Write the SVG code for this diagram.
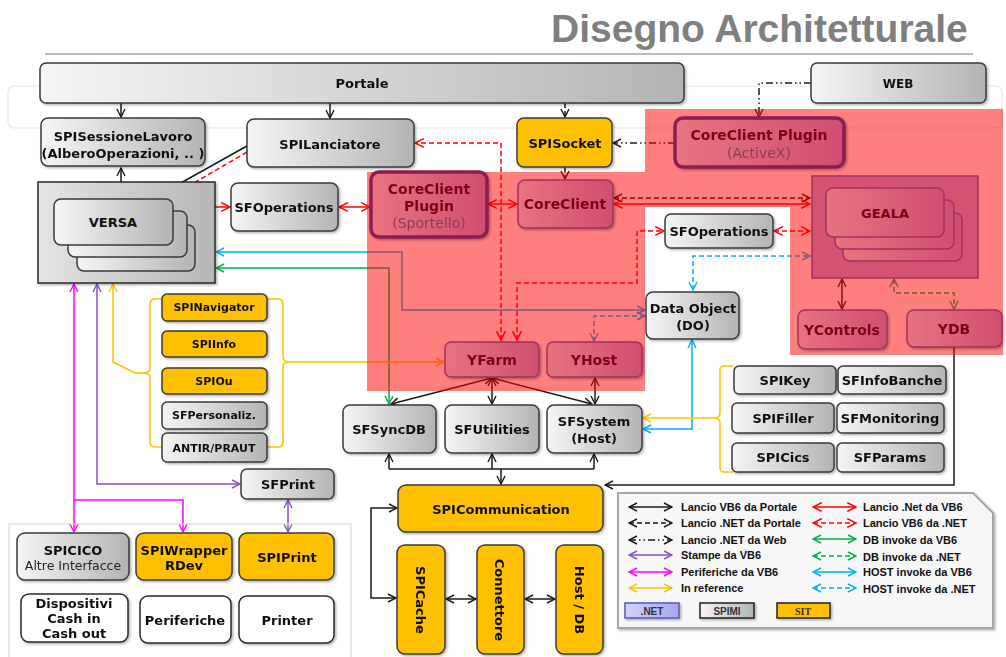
<svg xmlns="http://www.w3.org/2000/svg" width="1006" height="657" viewBox="0 0 1006 657">
<defs>
  <linearGradient id="gGray" x1="0" y1="0" x2="1" y2="0">
    <stop offset="0" stop-color="#f5f5f5"/><stop offset="1" stop-color="#b4b4b4"/>
  </linearGradient>
  <linearGradient id="gBox" x1="0" y1="0" x2="1" y2="0">
    <stop offset="0" stop-color="#e4e4e4"/><stop offset="1" stop-color="#b6b6b6"/>
  </linearGradient>
  <linearGradient id="gPink" x1="0" y1="0" x2="1" y2="0">
    <stop offset="0" stop-color="#e9737f"/><stop offset="1" stop-color="#d04e70"/>
  </linearGradient>
  <linearGradient id="gNet" x1="0" y1="0" x2="1" y2="0">
    <stop offset="0" stop-color="#d2d2fa"/><stop offset="1" stop-color="#a8a8ec"/>
  </linearGradient>
  <filter id="sh" x="-10%" y="-10%" width="130%" height="150%">
    <feDropShadow dx="1.5" dy="1.5" stdDeviation="1.2" flood-color="#000" flood-opacity="0.3"/>
  </filter>
  <marker id="mk" viewBox="0 0 10 10" refX="9" refY="5" markerWidth="10" markerHeight="10" markerUnits="userSpaceOnUse" orient="auto-start-reverse"><path d="M1,1 L9,5 L1,9" fill="none" stroke="#1a1a1a" stroke-width="1.4"/></marker>
  <marker id="mr" viewBox="0 0 10 10" refX="9" refY="5" markerWidth="11" markerHeight="11" markerUnits="userSpaceOnUse" orient="auto-start-reverse"><path d="M1,1 L9,5 L1,9" fill="none" stroke="#ff0000" stroke-width="1.4"/></marker>
  <marker id="mg" viewBox="0 0 10 10" refX="9" refY="5" markerWidth="10" markerHeight="10" markerUnits="userSpaceOnUse" orient="auto-start-reverse"><path d="M1,1 L9,5 L1,9" fill="none" stroke="#00b050" stroke-width="1.4"/></marker>
  <marker id="mc" viewBox="0 0 10 10" refX="9" refY="5" markerWidth="10" markerHeight="10" markerUnits="userSpaceOnUse" orient="auto-start-reverse"><path d="M1,1 L9,5 L1,9" fill="none" stroke="#00b0f0" stroke-width="1.4"/></marker>
  <marker id="mp" viewBox="0 0 10 10" refX="9" refY="5" markerWidth="10" markerHeight="10" markerUnits="userSpaceOnUse" orient="auto-start-reverse"><path d="M1,1 L9,5 L1,9" fill="none" stroke="#8a50c0" stroke-width="1.4"/></marker>
  <marker id="mm" viewBox="0 0 10 10" refX="9" refY="5" markerWidth="10" markerHeight="10" markerUnits="userSpaceOnUse" orient="auto-start-reverse"><path d="M1,1 L9,5 L1,9" fill="none" stroke="#ff00ff" stroke-width="1.4"/></marker>
  <marker id="my" viewBox="0 0 10 10" refX="9" refY="5" markerWidth="10" markerHeight="10" markerUnits="userSpaceOnUse" orient="auto-start-reverse"><path d="M1,1 L9,5 L1,9" fill="none" stroke="#ffc000" stroke-width="1.4"/></marker>
  <style>
    .c{fill:none;stroke-width:1.5}
    .k{stroke:#1a1a1a}.r{stroke:#ff0000}.g{stroke:#00b050}.b{stroke:#00b0f0}
    .p{stroke:#8a50c0}.m{stroke:#ff00ff}.y{stroke:#ffc000}
    .d{stroke-dasharray:5 3}
    .dd{stroke-dasharray:7 3 1.5 3 1.5 3}
    .gray{fill:url(#gGray);stroke:#3a3a3a;stroke-width:1.5}
    .yel{fill:#ffc000;stroke:#3a3a3a;stroke-width:1.5}
    .wht{fill:#fff;stroke:#2a2a2a;stroke-width:1.5}
    .pink{fill:url(#gPink);stroke:#a3305c;stroke-width:1.5}
    .pinkT{fill:url(#gPink);stroke:#8c1d52;stroke-width:3.5}
    .sh{filter:url(#sh)}
    text{font-family:"DejaVu Sans",Verdana,sans-serif;text-anchor:middle}
    .t{font-size:13px;font-weight:bold;fill:#111}
    .t11{font-size:11px;font-weight:bold;fill:#111}
    .t12{font-size:12px;font-weight:bold;fill:#111}
    .tn{font-size:12.5px;fill:#222}
    .tp{font-size:14px;font-weight:bold;fill:#7a0012}
    .tp13{font-size:13px;font-weight:bold;fill:#7a0012}
    .tpn{font-size:14px;fill:#8a3c52}
    .lg{font-family:"Liberation Sans",Arial,sans-serif;font-size:11px;font-weight:bold;fill:#111;text-anchor:start}
  </style>
</defs>

<rect width="1006" height="657" fill="#fff"/>

<!-- heading -->
<text x="551" y="42" style="font-family:'Liberation Sans',Arial,sans-serif;font-size:39px;font-weight:bold;fill:#7f7f7f;text-anchor:start">Disegno Architetturale</text>
<line x1="45" y1="54" x2="973" y2="54" stroke="#a6a6a6" stroke-width="1.5"/>
<rect x="8" y="86" width="994" height="42" rx="6" fill="none" stroke="#e6e6e6" stroke-width="1.2"/>

<!-- connectors -->
<g id="connectors">
  <path class="c k" d="M121,103 V117" marker-end="url(#mk)"/>
  <path class="c k" d="M330,103 V118" marker-end="url(#mk)"/>
  <path class="c k d" d="M565,103 V117" marker-end="url(#mk)"/>
  <path class="c k d" d="M565,167 V179" marker-end="url(#mk)"/>
  <path class="c k dd" d="M811,83 H759 V117" marker-end="url(#mk)"/>
  <path class="c k dd" d="M675,143 H613" marker-end="url(#mk)"/>
  <path class="c k" d="M121,168 V197" marker-start="url(#mk)" marker-end="url(#mk)"/>
  <path class="c k" d="M247,146 L170,189" marker-end="url(#mk)"/>
  <path class="c r d" d="M247,152 L170,197" marker-end="url(#mr)"/>
  <path class="c r d" d="M501,340 V143 H415" marker-start="url(#mr)" marker-end="url(#mr)"/>
  <path class="c r" d="M187,207 H230" marker-start="url(#mr)" marker-end="url(#mr)"/>
  <path class="c r" d="M339,207 H370" marker-start="url(#mr)" marker-end="url(#mr)"/>
  <path class="c r" d="M488,204 H517" marker-start="url(#mr)" marker-end="url(#mr)"/>
  <path class="c k d" d="M614,198 H810" marker-start="url(#mk)" marker-end="url(#mk)"/>
  <path class="c r" d="M614,204 H810" marker-start="url(#mr)" marker-end="url(#mr)"/>
  <path class="c r d" d="M774,231 H810" marker-start="url(#mr)" marker-end="url(#mr)"/>
  <path class="c r d" d="M517,340 V283 H637 V231 H664" marker-start="url(#mr)" marker-end="url(#mr)"/>
  <path class="c b d" d="M693,290 V256 H810" marker-start="url(#mc)" marker-end="url(#mc)"/>
  <path class="c b d" d="M645,316 H594 V341" marker-start="url(#mc)" marker-end="url(#mc)"/>
  <path class="c b" d="M216,252 H402 V310 H645" marker-start="url(#mc)" marker-end="url(#mc)"/>
  <path class="c g" d="M216,268 H389 V404" marker-start="url(#mg)" marker-end="url(#mg)"/>
  <path class="c k" d="M842,279 V309" marker-start="url(#mk)" marker-end="url(#mk)"/>
  <path class="c g d" d="M894,279 V293 H954 V309" marker-start="url(#mg)" marker-end="url(#mg)"/>
  <path class="c k" d="M492,378 L391,404" marker-start="url(#mk)" marker-end="url(#mk)"/>
  <path class="c k" d="M492,378 V404" marker-start="url(#mk)" marker-end="url(#mk)"/>
  <path class="c k" d="M492,378 L592,404" marker-start="url(#mk)" marker-end="url(#mk)"/>
  <path class="c k" d="M595,378 V404" marker-start="url(#mk)" marker-end="url(#mk)"/>
  <path class="c k" d="M389,469 H594"/>
  <path class="c k" d="M389,469 V454" marker-end="url(#mk)"/>
  <path class="c k" d="M492,469 V454" marker-end="url(#mk)"/>
  <path class="c k" d="M594,469 V454" marker-end="url(#mk)"/>
  <path class="c k" d="M501,469 V484" marker-end="url(#mk)"/>
  <path class="c k" d="M954,347 V485 H605" marker-end="url(#mk)"/>
  <path class="c k" d="M397,508 H371 V598 H396" marker-start="url(#mk)" marker-end="url(#mk)"/>
  <path class="c k" d="M446,599 H476" marker-start="url(#mk)" marker-end="url(#mk)"/>
  <path class="c k" d="M525,599 H555" marker-start="url(#mk)" marker-end="url(#mk)"/>
  <path class="c b" d="M692,340 V429 H643" marker-start="url(#mc)" marker-end="url(#mc)"/>
  <path class="c y" d="M733,366 H724 Q720,366 720,370 V413 Q720,418 714,418 Q720,418 720,423 V468 Q720,472 724,472 H733"/>
  <path class="c y" d="M714,418 H643" marker-end="url(#my)"/>
  <path class="c y" d="M162,299 H155 Q150,299 150,304 V368 Q150,373 143,373 Q150,373 150,378 V442 Q150,447 155,447 H162"/>
  <path class="c y" d="M267,299 H278 Q283,299 283,304 V357 Q283,362 290,362 Q283,362 283,367 V442 Q283,447 278,447 H267"/>
  <path class="c y" d="M143,373 H135 L113,362 V284" marker-end="url(#my)"/>
  <path class="c y" d="M290,362 H444" marker-end="url(#my)"/>
  <path class="c m" d="M74,284 V532" marker-start="url(#mm)" marker-end="url(#mm)"/>
  <path class="c m" d="M74,500 H183 V532" marker-end="url(#mm)"/>
  <path class="c p" d="M97,284 V484 H240" marker-start="url(#mp)" marker-end="url(#mp)"/>
  <path class="c p" d="M288,500 V532" marker-start="url(#mp)" marker-end="url(#mp)"/>
</g>

<!-- .NET zone -->
<polygon id="net-zone" points="367,172 645,172 645,109 1003,109 1003,355 790,355 790,207 645,207 645,391 367,391" fill="#ff0000" opacity="0.5"/>

<!-- nodes -->
<g id="portale" class="sh"><rect class="gray" x="40" y="63" width="644" height="40" rx="6"/><text class="t" x="362" y="88">Portale</text></g>
<g id="web" class="sh"><rect class="gray" x="811" y="63" width="175" height="40" rx="6"/><text class="t12" x="898" y="87.5">WEB</text></g>
<g id="spisessione" class="sh"><rect class="gray" x="41" y="118" width="164" height="48" rx="7"/><text class="t" x="123" y="141">SPISessioneLavoro</text><text class="t" x="123" y="158">(AlberoOperazioni, .. )</text></g>
<g id="spilanciatore" class="sh"><rect class="gray" x="247" y="119" width="167" height="48" rx="7"/><text class="t" x="330" y="148.5">SPILanciatore</text></g>
<g id="spisocket" class="sh"><rect class="yel" x="517" y="118" width="95" height="49" rx="7"/><text class="t" x="565" y="148">SPISocket</text></g>
<g id="plugin-activex" class="sh"><rect class="pinkT" x="675" y="118" width="169" height="49" rx="8"/><text class="tp" x="759" y="140">CoreClient Plugin</text><text class="tpn" x="759" y="158">(ActiveX)</text></g>

<g id="versa">
  <rect x="38" y="182" width="177" height="101" fill="url(#gBox)" stroke="#2a2a2a" stroke-width="1.5" class="sh"/>
  <rect class="gray" x="77" y="225" width="118" height="46" rx="7"/>
  <rect class="gray" x="68" y="211" width="119" height="46" rx="7"/>
  <rect class="gray" x="54" y="199" width="119" height="46" rx="7"/>
  <text class="t" x="113" y="227">VERSA</text>
</g>
<g id="sfoperations-vb" class="sh"><rect class="gray" x="231" y="183" width="107" height="48" rx="7"/><text class="t" x="284" y="212">SFOperations</text></g>
<g id="plugin-sportello" class="sh"><rect class="pinkT" x="371" y="172" width="116" height="65" rx="8"/><text class="tp" x="429" y="194">CoreClient</text><text class="tp" x="429" y="211">Plugin</text><text class="tpn" x="429" y="228">(Sportello)</text></g>
<g id="coreclient" class="sh"><rect class="pink" x="518" y="180" width="95" height="48" rx="7"/><text class="tp" x="565" y="209">CoreClient</text></g>

<g id="geala">
  <rect x="812" y="176" width="166" height="102" fill="#d45373" stroke="#a3305c" stroke-width="1.5"/>
  <rect class="pink" x="843" y="213" width="119" height="48" rx="7"/>
  <rect class="pink" x="835" y="200" width="119" height="49" rx="7"/>
  <rect class="pink" x="826" y="188" width="118" height="49" rx="7"/>
  <text class="tp13" x="885" y="218">GEALA</text>
</g>
<g id="sfoperations-net" class="sh"><rect class="gray" x="665" y="214" width="108" height="34" rx="6"/><text class="t" x="719" y="236">SFOperations</text></g>
<g id="dataobject" class="sh"><rect class="gray" x="646" y="292" width="93" height="47" rx="7"/><text class="t" x="693" y="313">Data Object</text><text class="t" x="693" y="330">(DO)</text></g>
<g id="ycontrols" class="sh"><rect class="pink" x="798" y="310" width="89" height="39" rx="7"/><text class="tp" x="842" y="335">YControls</text></g>
<g id="ydb" class="sh"><rect class="pink" x="907" y="310" width="95" height="37" rx="7"/><text class="tp" x="954" y="334">YDB</text></g>
<g id="yfarm" class="sh"><rect class="pink" x="445" y="342" width="94" height="35" rx="6"/><text class="tp" x="492" y="365">YFarm</text></g>
<g id="yhost" class="sh"><rect class="pink" x="547" y="342" width="95" height="35" rx="6"/><text class="tp" x="594" y="365">YHost</text></g>

<g id="sfsyncdb" class="sh"><rect class="gray" x="343" y="405" width="93" height="48" rx="7"/><text class="t" x="389" y="434">SFSyncDB</text></g>
<g id="sfutilities" class="sh"><rect class="gray" x="445" y="405" width="94" height="48" rx="7"/><text class="t" x="492" y="434">SFUtilities</text></g>
<g id="sfsystem" class="sh"><rect class="gray" x="547" y="405" width="95" height="48" rx="7"/><text class="t" x="594" y="426">SFSystem</text><text class="t" x="594" y="443">(Host)</text></g>

<g id="spinavigator" class="sh"><rect class="yel" x="162" y="294" width="105" height="27" rx="5"/><text class="t11" x="214" y="311">SPINavigator</text></g>
<g id="spiinfo" class="sh"><rect class="yel" x="162" y="331" width="105" height="26" rx="5"/><text class="t11" x="214" y="348">SPIInfo</text></g>
<g id="spiou" class="sh"><rect class="yel" x="162" y="368" width="105" height="26" rx="5"/><text class="t11" x="214" y="385">SPIOu</text></g>
<g id="sfpersonaliz" class="sh"><rect class="gray" x="162" y="402" width="105" height="27" rx="5"/><text class="t11" x="214" y="419">SFPersonaliz.</text></g>
<g id="antir" class="sh"><rect class="gray" x="162" y="433" width="105" height="29" rx="5"/><text class="t11" x="214" y="452">ANTIR/PRAUT</text></g>

<g id="spikey" class="sh"><rect class="gray" x="734" y="366" width="102" height="28" rx="5"/><text class="t" x="785" y="385">SPIKey</text></g>
<g id="sfinfobanche" class="sh"><rect class="gray" x="838" y="366" width="108" height="28" rx="5"/><text class="t" x="892" y="385">SFInfoBanche</text></g>
<g id="spifiller" class="sh"><rect class="gray" x="732" y="403" width="102" height="30" rx="5"/><text class="t" x="783" y="423">SPIFiller</text></g>
<g id="sfmonitoring" class="sh"><rect class="gray" x="837" y="403" width="107" height="30" rx="5"/><text class="t" x="890" y="423">SFMonitoring</text></g>
<g id="spicics" class="sh"><rect class="gray" x="732" y="443" width="102" height="29" rx="5"/><text class="t" x="783" y="462">SPICics</text></g>
<g id="sfparams" class="sh"><rect class="gray" x="837" y="443" width="107" height="29" rx="5"/><text class="t" x="890" y="462">SFParams</text></g>

<g id="sfprint" class="sh"><rect class="gray" x="241" y="469" width="93" height="30" rx="6"/><text class="t" x="288" y="489">SFPrint</text></g>

<!-- devices panel -->
<rect x="9" y="524" width="342" height="140" fill="none" stroke="#d8d8d8" stroke-width="1.2"/>
<g id="spicico" class="sh"><rect class="gray" x="17" y="533" width="112" height="47" rx="8"/><text class="t" x="73" y="555">SPICICO</text><text class="tn" x="73" y="569.5">Altre Interfacce</text></g>
<g id="spiwrapper" class="sh"><rect class="yel" x="136" y="533" width="96" height="47" rx="8"/><text class="t" x="184" y="555">SPIWrapper</text><text class="t" x="184" y="570">RDev</text></g>
<g id="spiprint" class="sh"><rect class="yel" x="239" y="533" width="95" height="47" rx="8"/><text class="t" x="287" y="561.5">SPIPrint</text></g>
<g id="dispositivi" class="sh"><rect class="wht" x="21" y="594" width="107" height="48" rx="8"/><text class="t" x="74" y="608">Dispositivi</text><text class="t" x="74" y="623">Cash in</text><text class="t" x="74" y="638">Cash out</text></g>
<g id="periferiche" class="sh"><rect class="wht" x="140" y="596" width="91" height="47" rx="8"/><text class="t" x="185" y="624.5">Periferiche</text></g>
<g id="printer" class="sh"><rect class="wht" x="239" y="596" width="95" height="47" rx="8"/><text class="t" x="287" y="624.5">Printer</text></g>

<g id="spicommunication" class="sh"><rect class="yel" x="398" y="485" width="205" height="47" rx="8"/><text class="t" x="501" y="513.5">SPICommunication</text></g>
<g id="spicache" class="sh"><rect class="yel" x="397" y="545" width="48" height="109" rx="8"/><text class="t" x="421" y="600" dy="4.7" transform="rotate(90 421 600)">SPICache</text></g>
<g id="connettore" class="sh"><rect class="yel" x="477" y="545" width="47" height="109" rx="8"/><text class="t" x="500" y="600" dy="4.7" transform="rotate(90 500 600)">Connettore</text></g>
<g id="hostdb" class="sh"><rect class="yel" x="556" y="545" width="47" height="109" rx="8"/><text class="t" x="580" y="600" dy="4.7" transform="rotate(90 580 600)">Host / DB</text></g>

<!-- legend -->
<g id="legend">
  <polygon points="618,493 973,493 993,513 993,628 618,628" fill="#f7f7f7" stroke="#a6a6a6" stroke-width="2" class="sh"/>
  <path class="c k" d="M629,507 H672" marker-start="url(#mk)" marker-end="url(#mk)"/>
  <path class="c k d" d="M629,523 H672" marker-start="url(#mk)" marker-end="url(#mk)"/>
  <path class="c k dd" d="M629,540 H672" marker-start="url(#mk)" marker-end="url(#mk)"/>
  <path class="c p" d="M629,555 H672" marker-start="url(#mp)" marker-end="url(#mp)"/>
  <path class="c m" d="M629,572 H672" marker-start="url(#mm)" marker-end="url(#mm)"/>
  <path class="c y" d="M629,588 H672" marker-start="url(#my)" marker-end="url(#my)"/>
  <text class="lg" x="681" y="511">Lancio VB6 da Portale</text>
  <text class="lg" x="681" y="527">Lancio .NET da Portale</text>
  <text class="lg" x="681" y="544">Lancio .NET da Web</text>
  <text class="lg" x="681" y="559">Stampe da VB6</text>
  <text class="lg" x="681" y="576">Periferiche da VB6</text>
  <text class="lg" x="681" y="592">In reference</text>
  <path class="c r" d="M813,507 H856" marker-start="url(#mr)" marker-end="url(#mr)"/>
  <path class="c r d" d="M813,523 H856" marker-start="url(#mr)" marker-end="url(#mr)"/>
  <path class="c g" d="M813,539 H856" marker-start="url(#mg)" marker-end="url(#mg)"/>
  <path class="c g d" d="M813,556 H856" marker-start="url(#mg)" marker-end="url(#mg)"/>
  <path class="c b" d="M813,572 H856" marker-start="url(#mc)" marker-end="url(#mc)"/>
  <path class="c b d" d="M813,588 H856" marker-start="url(#mc)" marker-end="url(#mc)"/>
  <text class="lg" x="863" y="511">Lancio .Net da VB6</text>
  <text class="lg" x="863" y="527">Lancio VB6 da .NET</text>
  <text class="lg" x="863" y="544">DB invoke da VB6</text>
  <text class="lg" x="863" y="561">DB invoke da .NET</text>
  <text class="lg" x="863" y="576">HOST invoke da VB6</text>
  <text class="lg" x="863" y="593">HOST invoke da .NET</text>
  <rect x="625" y="603" width="54" height="15" fill="url(#gNet)" stroke="#5a5ab8" stroke-width="1.5" class="sh"/>
  <text x="652" y="614.5" style="font-family:'Liberation Sans',Arial,sans-serif;font-size:10px;font-weight:bold;fill:#333">.NET</text>
  <rect x="700" y="603" width="54" height="15" fill="url(#gGray)" stroke="#222" stroke-width="1.5" class="sh"/>
  <text x="727" y="614.5" style="font-family:'Liberation Sans',Arial,sans-serif;font-size:10px;font-weight:bold;fill:#333">SPIMI</text>
  <rect x="777" y="603" width="53" height="15" fill="#ffc000" stroke="#222" stroke-width="1.5" class="sh"/>
  <text x="803" y="614.5" style="font-family:'Liberation Serif','Times New Roman',serif;font-size:10px;font-weight:bold;fill:#333">SIT</text>
</g>
</svg>
